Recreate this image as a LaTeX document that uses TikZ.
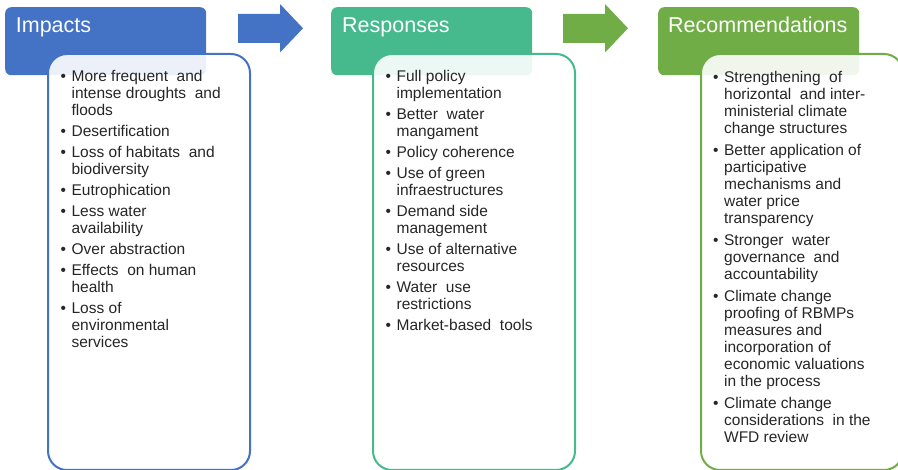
\documentclass[tikz,border=0pt]{standalone}
\usepackage{fontspec}
\setmainfont{Liberation Sans}
\usetikzlibrary{positioning}
\definecolor{impactblue}{HTML}{4472C4}
\definecolor{responseteal}{HTML}{46BA8D}
\definecolor{recomgreen}{HTML}{70AD47}
\tikzset{header/.style={fill=#1, rounded corners=6pt, anchor=north west,
                        minimum width=201pt, minimum height=68pt, inner sep=0pt},
        headtitle/.style={text=white, anchor=base west, inner sep=0pt,
                          font=\fontsize{21.5}{24}\selectfont},
        panel/.style={draw=#1, line width=2pt, fill=white, fill opacity=0.9,
                      rounded corners=19pt, anchor=north west,
                      minimum width=202pt, minimum height=416pt, inner sep=0pt},
        itemlist/.style={text=black!85, anchor=base west, inner sep=0pt,
                         font=\fontsize{15.5}{17}\selectfont},
        flow arrow/.style={fill=#1},
        }
\newcommand{\itemgap}{\\[4pt]}

\begin{document}
\begin{tikzpicture}[x=1pt,y=-1pt]
    \useasboundingbox (0,0) rectangle (898,470);
    \clip (0,0) rectangle (898,470);

    % headers
    \node[header=impactblue] (impacts) at (5,7) {};
    \node[header=responseteal] (responses) at (331,7) {};
    \node[header=recomgreen] (recommendations) at (658,7) {};
    \node[headtitle] (impactsTitle) at (15.7,33) {Impacts};
    \node[headtitle] (responsesTitle) at (342,33) {Responses};
    \node[headtitle] (recommendationsTitle) at (668,33) {Recommendations};

    % block arrows
    \fill[flow arrow=impactblue] (238,14) -- (280,14) -- (280,4) -- (303,28.3)
        -- (280,52.5) -- (280,43) -- (238,43) -- cycle;
    \fill[flow arrow=recomgreen] (563,14) -- (605,14) -- (605,4) -- (628,28.3)
        -- (605,52.5) -- (605,43) -- (563,43) -- cycle;

    % panels
    \node[panel=impactblue] (impactsPanel) at (47,53) {};
    \node[panel=responseteal] (responsesPanel) at (372,53) {};
    \node[panel=recomgreen] (recommendationsPanel) at (700,53) {};

    \node[itemlist] (impactsList) at (60.5,82) {%
        \begin{tabular}[t]{@{}l@{\hspace{5.5pt}}l@{}}
        \textbullet & More frequent\ \ and\\ & intense\ droughts\ \ and\\ & floods\itemgap
        \textbullet & Desertification\itemgap
        \textbullet & Loss\ of\ habitats\ \ and\\ & biodiversity\itemgap
        \textbullet & Eutrophication\itemgap
        \textbullet & Less water\\ & availability\itemgap
        \textbullet & Over\ abstraction\itemgap
        \textbullet & Effects\ \ on human\\ & health\itemgap
        \textbullet & Loss\ of\\ & environmental\\ & services
        \end{tabular}};
    \node[itemlist] (responsesList) at (385.5,82) {%
        \begin{tabular}[t]{@{}l@{\hspace{5.5pt}}l@{}}
        \textbullet & Full policy\\ & implementation\itemgap
        \textbullet & Better\ \ water\\ & mangament\itemgap
        \textbullet & Policy\ coherence\itemgap
        \textbullet & Use of green\\ & infraestructures\itemgap
        \textbullet & Demand side\\ & management\itemgap
        \textbullet & Use of alternative\\ & resources\itemgap
        \textbullet & Water\ \ use\\ & restrictions\itemgap
        \textbullet & Market-based\ \ tools
        \end{tabular}};
    \node[itemlist] (recommendationsList) at (713,83) {%
        \begin{tabular}[t]{@{}l@{\hspace{5.5pt}}l@{}}
        \textbullet & Strengthening\ \ of\\ & horizontal\ \ and inter-\\ & ministerial climate\\ & change\ structures\\[5pt]
        \textbullet & Better\ application\ of\\ & participative\\ & mechanisms and\\ & water\ price\\ & transparency\\[5pt]
        \textbullet & Stronger\ \ water\\ & governance\ \ and\\ & accountability\\[5pt]
        \textbullet & Climate change\\ & proofing\ of\ RBMPs\\ & measures and\\ & incorporation\ of\\ & economic\ valuations\\ & in the\ process\\[5pt]
        \textbullet & Climate change\\ & considerations\ \ in the\\ & WFD review
        \end{tabular}};
\end{tikzpicture}
\end{document}
